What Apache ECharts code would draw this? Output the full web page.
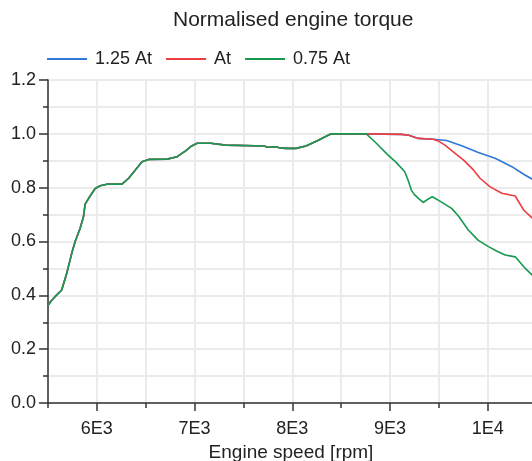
<!DOCTYPE html>
<html>
<head>
<meta charset="utf-8">
<script src="https://cdn.jsdelivr.net/npm/echarts@6/dist/echarts.min.js"></script>
<style>
html,body{margin:0;padding:0;background:#fff;}
#chart{width:532px;height:461px;}
</style>
</head>
<body>
<div id="chart"></div>
<script>
// Shared part of all three curves (engine speed [rpm], normalised torque)
const sharedRpm = [5500, 5530, 5572, 5640, 5692, 5743, 5777, 5829, 5863, 5880, 5931, 5983, 6034, 6103, 6257, 6325, 6394, 6462, 6531, 6719, 6822, 6908, 6970, 7027, 7164, 7182, 7318, 7336, 7712, 7747, 7832, 7866, 7935, 8038, 8140, 8261, 8397, 8757];
const sharedTorque = [0.362, 0.378, 0.395, 0.420, 0.482, 0.556, 0.599, 0.649, 0.692, 0.739, 0.769, 0.797, 0.807, 0.813, 0.813, 0.835, 0.866, 0.896, 0.905, 0.906, 0.915, 0.937, 0.955, 0.965, 0.965, 0.958, 0.958, 0.955, 0.955, 0.950, 0.952, 0.948, 0.946, 0.946, 0.955, 0.975, 1.0, 1.0];

// 1.25 At tail
const highRpm = [9116, 9192, 9288, 9442, 9579, 9733, 9904, 10075, 10247, 10367, 10473];
const highTorque = [0.998, 0.995, 0.983, 0.980, 0.975, 0.956, 0.931, 0.909, 0.878, 0.850, 0.828];

// At tail
const midRpm = [9116, 9192, 9288, 9442, 9500, 9562, 9650, 9750, 9853, 9921, 10024, 10144, 10281, 10367, 10473];
const midTorque = [0.998, 0.995, 0.983, 0.980, 0.972, 0.958, 0.932, 0.903, 0.866, 0.835, 0.803, 0.779, 0.769, 0.717, 0.681];

// 0.75 At tail
const lowRpm = [8860, 8980, 9060, 9150, 9185, 9219, 9247, 9290, 9339, 9400, 9432, 9510, 9630, 9700, 9801, 9900, 10007, 10100, 10178, 10281, 10384, 10473];
const lowTorque = [0.965, 0.921, 0.895, 0.859, 0.828, 0.790, 0.775, 0.760, 0.745, 0.760, 0.766, 0.750, 0.723, 0.695, 0.643, 0.605, 0.581, 0.563, 0.550, 0.543, 0.500, 0.469];

const seriesNames = ['1.25 At', 'At', '0.75 At'];
const seriesColors = ['#2f78d8', '#ef3d42', '#17994f'];
const xMajorTicks = [6000, 7000, 8000, 9000, 10000];

function pairs(xs, ys) { return xs.map((x, i) => [x, ys[i]]); }
const dataHigh = pairs(sharedRpm, sharedTorque).concat(pairs(highRpm, highTorque));
const dataMid = pairs(sharedRpm, sharedTorque).concat(pairs(midRpm, midTorque));
const dataLow = pairs(sharedRpm, sharedTorque).concat(pairs(lowRpm, lowTorque));

function sci(v) {
  if (v % 1000 !== 0) return '';
  const e = Math.floor(Math.log10(v) + 1e-9);
  const m = Math.round(v / Math.pow(10, e) * 100) / 100;
  return m + 'E' + e;
}

const FONT = "'Liberation Sans', Arial, sans-serif";
const chart = echarts.init(document.getElementById('chart'), null, {renderer: 'canvas'});
chart.setOption({
  animation: false,
  textStyle: {fontFamily: FONT},
  title: {
    text: 'Normalised engine torque',
    left: 168, top: 5,
    textStyle: {fontFamily: FONT, fontSize: 21, fontWeight: 'normal', color: '#222'}
  },
  legend: {
    left: 42, top: 45,
    itemWidth: 40, itemHeight: 2, itemGap: 14,
    icon: 'rect',
    data: seriesNames,
    textStyle: {fontFamily: FONT, fontSize: 18, color: '#222', padding: [0, 0, 0, 3]}
  },
  grid: {
    left: 48, top: 80, right: -2, bottom: 58,
    outerBoundsMode: 'none', containLabel: false,
    show: true, borderColor: '#333', borderWidth: 1.5, backgroundColor: 'transparent'
  },
  xAxis: [{
    type: 'value', min: 5500, max: 10473, interval: 500,
    name: 'Engine speed [rpm]', nameLocation: 'middle', nameGap: 36,
    nameTextStyle: {fontFamily: FONT, fontSize: 19, color: '#222'},
    axisLine: {show: true, lineStyle: {color: '#333', width: 1.5}},
    axisTick: {show: true, length: 5, lineStyle: {color: '#333', width: 1.5}},
    axisLabel: {formatter: sci, fontFamily: FONT, fontSize: 18, color: '#222', margin: 17, showMaxLabel: false},
    splitLine: {show: true, lineStyle: {color: '#ebebeb', width: 2}}
  }, {
    type: 'value', min: 5500, max: 10473, position: 'bottom', gridIndex: 0,
    axisLine: {show: false},
    axisTick: {show: true, length: 8, customValues: xMajorTicks, lineStyle: {color: '#333', width: 1.5}},
    axisLabel: {show: false},
    splitLine: {show: false}
  }],
  yAxis: {
    type: 'value', min: 0, max: 1.2, interval: 0.2,
    axisLine: {show: true, lineStyle: {color: '#333', width: 1.5}},
    axisTick: {show: true, length: 9, lineStyle: {color: '#333', width: 1.5}},
    minorTick: {show: true, splitNumber: 2, length: 5, lineStyle: {color: '#333', width: 1.5}},
    axisLabel: {formatter: v => v.toFixed(1), fontFamily: FONT, fontSize: 18, color: '#222', margin: 12},
    splitLine: {show: true, lineStyle: {color: '#ebebeb', width: 2}},
    minorSplitLine: {show: true, lineStyle: {color: '#ebebeb', width: 2}}
  },
  series: [
    {name: seriesNames[0], type: 'line', data: dataHigh, showSymbol: false, color: seriesColors[0], lineStyle: {width: 1.6}, z: 2},
    {name: seriesNames[1], type: 'line', data: dataMid, showSymbol: false, color: seriesColors[1], lineStyle: {width: 1.6}, z: 3},
    {name: seriesNames[2], type: 'line', data: dataLow, showSymbol: false, color: seriesColors[2], lineStyle: {width: 1.6}, z: 4}
  ]
});
</script>
</body>
</html>
